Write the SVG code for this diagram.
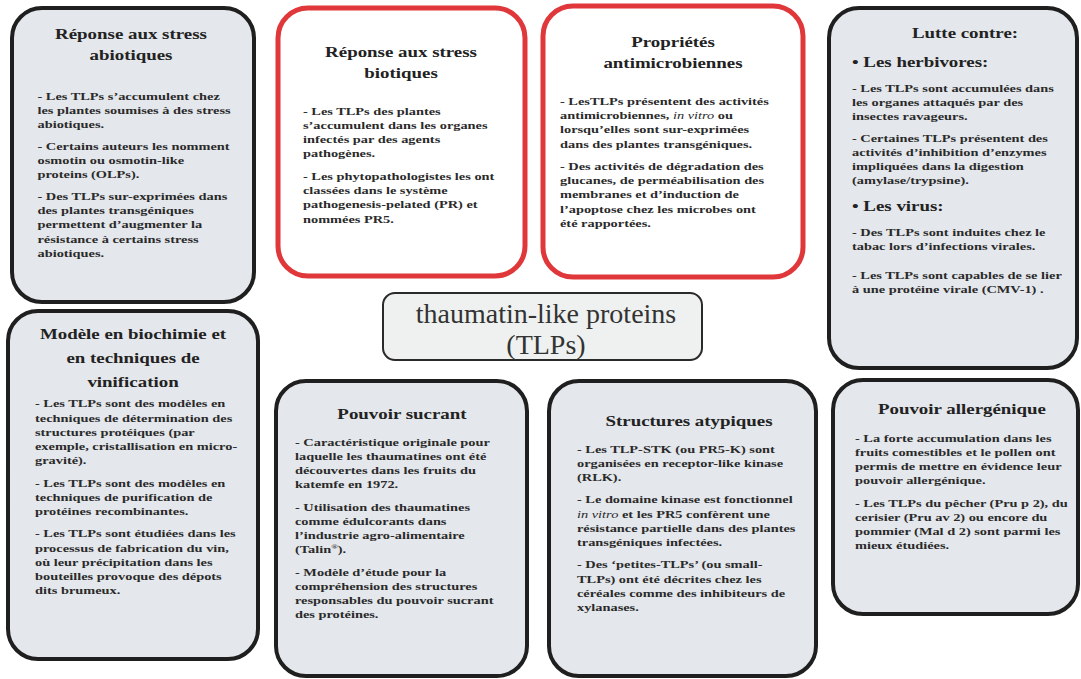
<svg xmlns="http://www.w3.org/2000/svg" width="1081" height="679" viewBox="0 0 1081 679">
<style>
.box{fill:#e4e7eb;stroke:#1f1f1f;stroke-width:4}
.red{fill:#ffffff;stroke:#e0383a;stroke-width:5}
.ctr{fill:#eef1ef;stroke:#2a2a2a;stroke-width:2}
.t{font-family:"Liberation Serif",serif;font-weight:bold;font-size:15px;fill:#222;text-anchor:middle}
.h{font-family:"Liberation Serif",serif;font-weight:bold;font-size:15px;fill:#222}
.b{font-family:"Liberation Serif",serif;font-weight:bold;font-size:11.4px;fill:#2a2a2a}
.i{font-style:italic;font-weight:normal}
.c{font-family:"Liberation Serif",serif;font-size:28px;fill:#333;text-anchor:middle}
</style>
<rect width="1081" height="679" fill="#ffffff"/>
<g id="connectors"/>

<g id="abiotic">
<rect class="box" x="12" y="8" width="242" height="294" rx="30"/>
<g transform="translate(37.5 0) scale(1.26 1)">
<text class="t" x="74.2" y="39">Réponse aux stress</text>
<text class="t" x="74.2" y="60">abiotiques</text>
<text class="b" x="0" y="100">- Les TLPs s’accumulent chez</text>
<text class="b" x="0" y="114">les plantes soumises à des stress</text>
<text class="b" x="0" y="128">abiotiques.</text>
<text class="b" x="0" y="150">- Certains auteurs les nomment</text>
<text class="b" x="0" y="164">osmotin ou osmotin-like</text>
<text class="b" x="0" y="178">proteins (OLPs).</text>
<text class="b" x="0" y="200">- Des TLPs sur-exprimées dans</text>
<text class="b" x="0" y="214">des plantes transgéniques</text>
<text class="b" x="0" y="228">permettent d’augmenter la</text>
<text class="b" x="0" y="243">résistance à certains stress</text>
<text class="b" x="0" y="257">abiotiques.</text>
</g>
</g>

<g id="biotic">
<rect class="red" x="278" y="8" width="247" height="268" rx="30"/>
<g transform="translate(303 0) scale(1.26 1)">
<text class="t" x="77.8" y="57">Réponse aux stress</text>
<text class="t" x="77.8" y="78">biotiques</text>
<text class="b" x="0" y="115">- Les TLPs des plantes</text>
<text class="b" x="0" y="129">s’accumulent dans les organes</text>
<text class="b" x="0" y="143">infectés par des agents</text>
<text class="b" x="0" y="157">pathogènes.</text>
<text class="b" x="0" y="180">- Les phytopathologistes les ont</text>
<text class="b" x="0" y="194">classées dans le système</text>
<text class="b" x="0" y="208">pathogenesis-pelated (PR) et</text>
<text class="b" x="0" y="223">nommées PR5.</text>
</g>
</g>

<g id="antimicrobial">
<rect class="red" x="543" y="6" width="260" height="271" rx="30"/>
<g transform="translate(560 0) scale(1.26 1)">
<text class="t" x="89.7" y="47">Propriétés</text>
<text class="t" x="89.7" y="68">antimicrobiennes</text>
<text class="b" x="0" y="105">- LesTLPs présentent des activités</text>
<text class="b" x="0" y="119">antimicrobiennes, <tspan class="i">in vitro</tspan> ou</text>
<text class="b" x="0" y="133">lorsqu’elles sont sur-exprimées</text>
<text class="b" x="0" y="148">dans des plantes transgéniques.</text>
<text class="b" x="0" y="170">- Des activités de dégradation des</text>
<text class="b" x="0" y="184">glucanes, de perméabilisation des</text>
<text class="b" x="0" y="198">membranes et d’induction de</text>
<text class="b" x="0" y="213">l’apoptose chez les microbes ont</text>
<text class="b" x="0" y="227">été rapportées.</text>
</g>
</g>

<g id="lutte">
<rect class="box" x="829" y="8" width="248" height="360" rx="30"/>
<g transform="translate(852 0) scale(1.26 1)">
<text class="t" x="89.7" y="38">Lutte contre:</text>
<text class="h" x="0" y="67">• Les herbivores:</text>
<text class="b" x="0" y="92">- Les TLPs sont accumulées dans</text>
<text class="b" x="0" y="106">les organes attaqués par des</text>
<text class="b" x="0" y="120">insectes ravageurs.</text>
<text class="b" x="0" y="142">- Certaines TLPs présentent des</text>
<text class="b" x="0" y="156">activités d’inhibition d’enzymes</text>
<text class="b" x="0" y="170">impliquées dans la digestion</text>
<text class="b" x="0" y="184">(amylase/trypsine).</text>
<text class="h" x="0" y="211">• Les virus:</text>
<text class="b" x="0" y="236">- Des TLPs sont induites chez le</text>
<text class="b" x="0" y="250">tabac lors d’infections virales.</text>
<text class="b" x="0" y="279">- Les TLPs sont capables de se lier</text>
<text class="b" x="0" y="293">à une protéine virale (CMV-1) .</text>
</g>
</g>

<g id="center">
<rect class="ctr" x="383" y="293" width="319" height="67" rx="12"/>
<text class="c" x="546" y="323">thaumatin-like proteins</text>
<text class="c" x="546" y="354">(TLPs)</text>
</g>

<g id="modele">
<rect class="box" x="8" y="311" width="250" height="348" rx="30"/>
<g transform="translate(35 0) scale(1.26 1)">
<text class="t" x="77.8" y="339">Modèle en biochimie et</text>
<text class="t" x="77.8" y="363">en techniques de</text>
<text class="t" x="77.8" y="387">vinification</text>
<text class="b" x="0" y="407">- Les TLPs sont des modèles en</text>
<text class="b" x="0" y="422">techniques de détermination des</text>
<text class="b" x="0" y="436">structures protéiques (par</text>
<text class="b" x="0" y="450">exemple, cristallisation en micro-</text>
<text class="b" x="0" y="464">gravité).</text>
<text class="b" x="0" y="487">- Les TLPs sont des modèles en</text>
<text class="b" x="0" y="501">techniques de purification de</text>
<text class="b" x="0" y="515">protéines recombinantes.</text>
<text class="b" x="0" y="537">- Les TLPs sont étudiées dans les</text>
<text class="b" x="0" y="552">processus de fabrication du vin,</text>
<text class="b" x="0" y="566">où leur précipitation dans les</text>
<text class="b" x="0" y="580">bouteilles provoque des dépots</text>
<text class="b" x="0" y="594">dits brumeux.</text>
</g>
</g>

<g id="sucrant">
<rect class="box" x="276" y="381" width="251" height="295" rx="30"/>
<g transform="translate(295 0) scale(1.26 1)">
<text class="t" x="84.9" y="419">Pouvoir sucrant</text>
<text class="b" x="0" y="446">- Caractéristique originale pour</text>
<text class="b" x="0" y="460">laquelle les thaumatines ont été</text>
<text class="b" x="0" y="474">découvertes dans les fruits du</text>
<text class="b" x="0" y="488">katemfe en 1972.</text>
<text class="b" x="0" y="511">- Utilisation des thaumatines</text>
<text class="b" x="0" y="525">comme édulcorants dans</text>
<text class="b" x="0" y="539">l’industrie agro-alimentaire</text>
<text class="b" x="0" y="553">(Talin<tspan font-size="7" dy="-4">®</tspan><tspan dy="4">).</tspan></text>
<text class="b" x="0" y="576">- Modèle d’étude pour la</text>
<text class="b" x="0" y="590">compréhension des structures</text>
<text class="b" x="0" y="604">responsables du pouvoir sucrant</text>
<text class="b" x="0" y="618">des protéines.</text>
</g>
</g>

<g id="atypiques">
<rect class="box" x="549" y="381" width="267" height="295" rx="30"/>
<g transform="translate(577 0) scale(1.26 1)">
<text class="t" x="88.9" y="426">Structures atypiques</text>
<text class="b" x="0" y="453">- Les TLP-STK (ou PR5-K) sont</text>
<text class="b" x="0" y="467">organisées en receptor-like kinase</text>
<text class="b" x="0" y="481">(RLK).</text>
<text class="b" x="0" y="503">- Le domaine kinase est fonctionnel</text>
<text class="b" x="0" y="518"><tspan class="i">in vitro</tspan> et les PR5 confèrent une</text>
<text class="b" x="0" y="532">résistance partielle dans des plantes</text>
<text class="b" x="0" y="546">transgéniques infectées.</text>
<text class="b" x="0" y="568">- Des ‘petites-TLPs’ (ou small-</text>
<text class="b" x="0" y="583">TLPs) ont été décrites chez les</text>
<text class="b" x="0" y="597">céréales comme des inhibiteurs de</text>
<text class="b" x="0" y="611">xylanases.</text>
</g>
</g>

<g id="allergenique">
<rect class="box" x="833" y="380" width="245" height="234" rx="30"/>
<g transform="translate(855 0) scale(1.26 1)">
<text class="t" x="84.9" y="414">Pouvoir allergénique</text>
<text class="b" x="0" y="442">- La forte accumulation dans les</text>
<text class="b" x="0" y="456">fruits comestibles et le pollen ont</text>
<text class="b" x="0" y="470">permis de mettre en évidence leur</text>
<text class="b" x="0" y="484">pouvoir allergénique.</text>
<text class="b" x="0" y="507">- Les TLPs du pêcher (Pru p 2), du</text>
<text class="b" x="0" y="521">cerisier (Pru av 2) ou encore du</text>
<text class="b" x="0" y="535">pommier (Mal d 2) sont parmi les</text>
<text class="b" x="0" y="549">mieux étudiées.</text>
</g>
</g>
</svg>
